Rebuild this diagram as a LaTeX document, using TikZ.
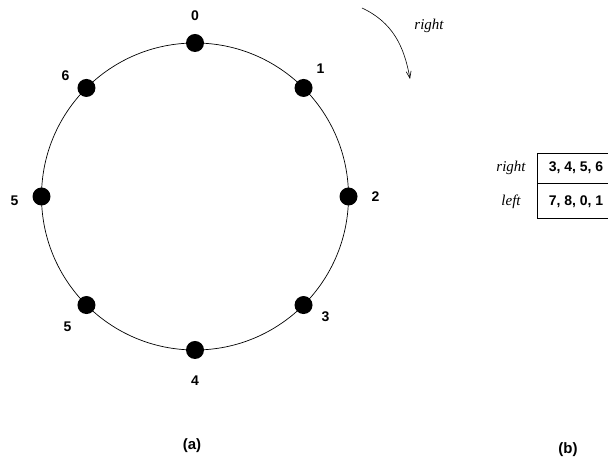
\documentclass[tikz,border=0pt]{standalone}
\usepackage{fontspec}
\setmainfont{Liberation Serif}
\setsansfont{Liberation Sans}
\usetikzlibrary{arrows.meta}
\tikzset{
  dot/.style={circle,fill=black,inner sep=0pt,minimum size=18pt},
  num/.style={font=\sffamily\bfseries\fontsize{14}{16}\selectfont,inner sep=0pt},
  cell/.style={draw,line width=0.8pt,minimum width=78pt,font=\sffamily\bfseries\fontsize{14}{16}\selectfont},
  side/.style={font=\itshape\fontsize{15}{17}\selectfont,inner sep=0pt},
  capt/.style={font=\sffamily\bfseries\fontsize{15}{17}\selectfont}
}

\begin{document}
\begin{tikzpicture}[x=1pt,y=1pt]
\useasboundingbox (0,0) rectangle (608,462);
\coordinate (c) at (195,265.5);
\draw[line width=0.7pt] (c) circle (153.5);
\foreach \i/\ang/\lab/\dx/\dy in {0/90/0/0/27, 1/45/1/17/19, 2/0/2/27/0, 3/-45/3/22/-12,
  4/-90/4/0/-31, 5/-135/5/-19/-22, 6/180/5/-27/-4, 7/135/6/-21/12}{
  \node[dot] (d\i) at ([shift={(\ang:153.5)}]c) {};
  \node[num] (l\i) at ([shift={(\dx,\dy)}]d\i) {\lab};
}
\coordinate (arrS) at (362,454);
\coordinate (arrE) at (410,383);
\draw[line width=0.6pt,-{Straight Barb[length=7pt,width=5pt]}] (arrS) to[out=-25,in=100] (arrE);
\node[side] (dir) at (429,436) {right};
\node[cell,minimum height=30pt] (rr) at (576,294) {3, 4, 5, 6};
\node[cell,minimum height=35pt,anchor=north] (rl) at (rr.south) {7, 8, 0, 1};
\node[side] (tr) at (511,294) {right};
\node[side] (tl) at (511,260) {left};
\node[capt] (ca) at (192,16) {(a)};
\node[capt] (cb) at (568,12) {(b)};
\end{tikzpicture}
\end{document}
